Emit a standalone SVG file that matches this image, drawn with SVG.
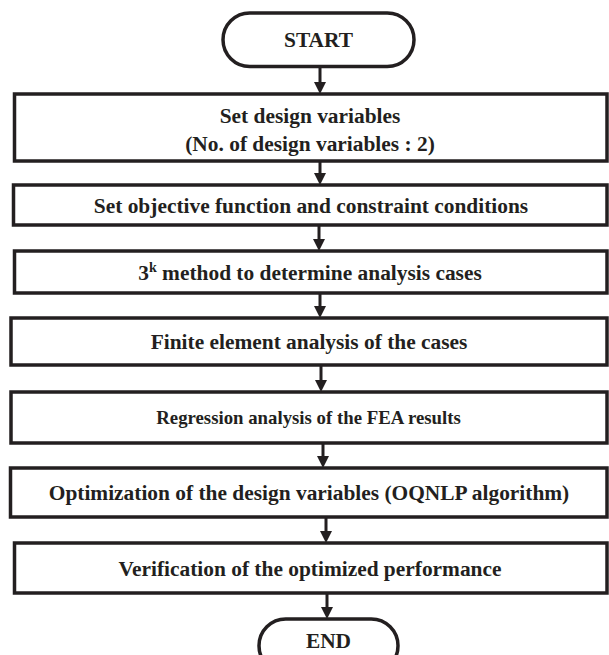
<svg xmlns="http://www.w3.org/2000/svg" width="609" height="655" viewBox="0 0 609 655">
<style>
.box{fill:#fff;stroke:#231f20;stroke-width:3.5}
.t{font-family:"Liberation Serif","Times New Roman",serif;font-weight:bold;font-size:21.4px;fill:#231f20;text-anchor:middle}
.s{font-size:18.8px}
.c{stroke:#231f20;stroke-width:3;fill:none;marker-end:url(#ah)}
</style>
<defs>
<marker id="ah" markerUnits="userSpaceOnUse" markerWidth="12" markerHeight="12" viewBox="0 0 12 12" refX="0" refY="6" orient="auto"><path d="M0,0 L12,6 L0,12 z" fill="#231f20"/></marker>
</defs>
<rect width="609" height="655" fill="#fff"/>
<g id="connectors">
<line class="c" x1="320" y1="66.5" x2="320" y2="82"/>
<line class="c" x1="320" y1="161" x2="320" y2="173"/>
<line class="c" x1="319" y1="225" x2="319" y2="239"/>
<line class="c" x1="320" y1="293" x2="320" y2="306"/>
<line class="c" x1="321" y1="365" x2="321" y2="380"/>
<line class="c" x1="323" y1="443" x2="323" y2="456"/>
<line class="c" x1="326" y1="517" x2="326" y2="531"/>
<line class="c" x1="327" y1="593" x2="327" y2="607"/>
</g>
<g id="start">
<rect class="box" x="223" y="13" width="191" height="53.5" rx="26.75"/>
<text class="t" x="318.5" y="47">START</text>
</g>
<g id="step1">
<rect class="box" x="14.5" y="94" width="592.5" height="67"/>
<text class="t" x="310" y="123">Set design variables</text>
<text class="t" x="310" y="150.5">(No. of design variables : 2)</text>
</g>
<g id="step2">
<rect class="box" x="13.5" y="185" width="593.5" height="40"/>
<text class="t" x="311" y="213">Set objective function and constraint conditions</text>
</g>
<g id="step3">
<rect class="box" x="14.5" y="251" width="592.5" height="42"/>
<text class="t" x="310" y="279.5">3<tspan font-size="14" dy="-8">k</tspan><tspan dy="8"> method to determine analysis cases</tspan></text>
</g>
<g id="step4">
<rect class="box" x="11" y="318" width="596" height="47"/>
<text class="t" x="309" y="349">Finite element analysis of the cases</text>
</g>
<g id="step5">
<rect class="box" x="11" y="392" width="596" height="51"/>
<text class="t s" x="308.5" y="424">Regression analysis of the FEA results</text>
</g>
<g id="step6">
<rect class="box" x="10.5" y="468" width="596.5" height="49"/>
<text class="t" x="309" y="500">Optimization of the design variables (OQNLP algorithm)</text>
</g>
<g id="step7">
<rect class="box" x="14.5" y="543" width="592.5" height="50"/>
<text class="t" x="310" y="576">Verification of the optimized performance</text>
</g>
<g id="end">
<rect class="box" x="259" y="619" width="139" height="53.5" rx="26.75"/>
<text class="t" x="328.5" y="648">END</text>
</g>
</svg>
